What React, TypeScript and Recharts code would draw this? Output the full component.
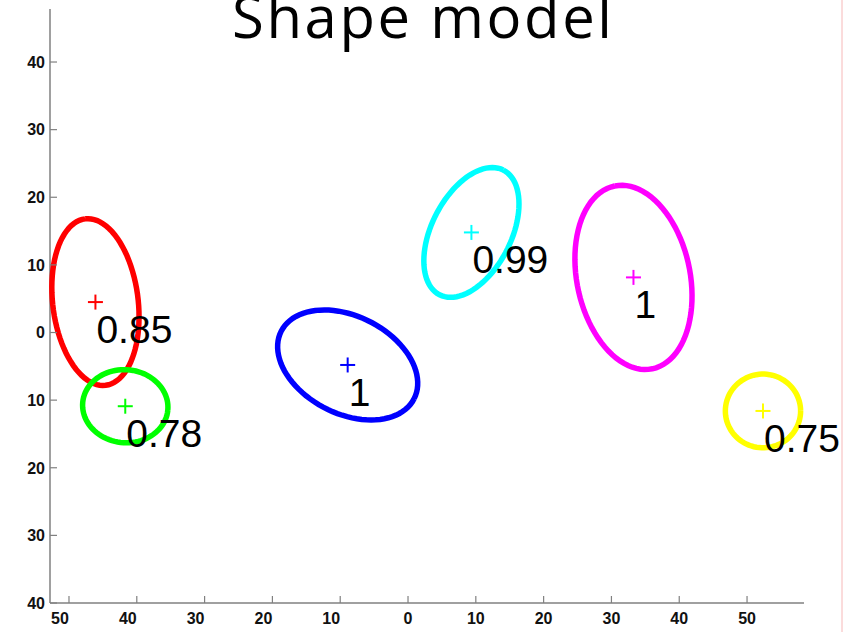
import * as React from "react";
import { ScatterChart, Scatter, XAxis, YAxis } from "recharts";

// component colours, in drawing order
const colors = ["#ff0000", "#00ff00", "#0000ff", "#00ffff", "#ff00ff", "#ffff00"];
// component means (the + marks)
const centerX = [-46.1, -41.7, -8.9, 9.35, 33.25, 52.35];
const centerY = [4.5, -10.9, -4.8, 14.8, 8.15, -11.6];
// ellipse semi-axes and tilt (degrees from +x)
const semiMajor = [12.4, 6.3, 11.0, 10.35, 13.8, 5.55];
const semiMinor = [6.3, 5.4, 7.2, 5.85, 8.35, 5.45];
const tiltDeg = [97, -5, -27, 63, 101.6, 0];
// weight printed next to each mean
const weights = ["0.85", "0.78", "1", "0.99", "1", "0.75"];

const xTicks = [-50, -40, -30, -20, -10, 0, 10, 20, 30, 40, 50];
const yTicks = [-40, -30, -20, -10, 0, 10, 20, 30, 40];

const AXIS = "#808080";

function outline(i: number) {
  const pts: { x: number; y: number }[] = [];
  const th = (tiltDeg[i] * Math.PI) / 180;
  for (let k = 0; k <= 90; k++) {
    const t = (k / 90) * 2 * Math.PI;
    const u = semiMajor[i] * Math.cos(t);
    const v = semiMinor[i] * Math.sin(t);
    pts.push({
      x: centerX[i] + u * Math.cos(th) - v * Math.sin(th),
      y: centerY[i] + u * Math.sin(th) + v * Math.cos(th),
    });
  }
  return pts;
}

const XTick = (props: any) => {
  const { x, y, payload } = props;
  const v = payload.value as number;
  return (
    <g>
      <line x1={x} x2={x} y1={y} y2={y - 7} stroke={AXIS} strokeWidth={1.2} />
      <text
        x={x + (v < 0 ? -9 : 0)}
        y={y + 21}
        textAnchor="middle"
        fontFamily="Liberation Sans, Arial, sans-serif"
        fontWeight="bold"
        fontSize={16}
        fill="#111"
      >
        {Math.abs(v)}
      </text>
    </g>
  );
};

const YTick = (props: any) => {
  const { x, y, payload } = props;
  const v = payload.value as number;
  return (
    <g>
      <line x1={x} x2={x + 7} y1={y} y2={y} stroke={AXIS} strokeWidth={1.2} />
      <text
        x={x - 5}
        y={y}
        dy="0.36em"
        textAnchor="end"
        fontFamily="Liberation Sans, Arial, sans-serif"
        fontWeight="bold"
        fontSize={16}
        fill="#111"
      >
        {Math.abs(v)}
      </text>
    </g>
  );
};

const CenterMark = (props: any) => {
  const { cx, cy, color, label } = props;
  return (
    <g>
      <line x1={cx - 7.5} x2={cx + 7.5} y1={cy} y2={cy} stroke={color} strokeWidth={2} />
      <line x1={cx} x2={cx} y1={cy - 7.5} y2={cy + 7.5} stroke={color} strokeWidth={2} />
      <text
        x={cx + 1}
        y={cy + 41}
        fontFamily="Liberation Sans, Arial, sans-serif"
        fontSize={39}
        fill="#000"
      >
        {label}
      </text>
    </g>
  );
};

export default function App() {
  return (
    <div
      style={{
        position: "absolute",
        left: 0,
        top: 0,
        width: 861,
        height: 632,
        background: "#fff",
        overflow: "hidden",
      }}
    >
      <ScatterChart
        width={861}
        height={632}
        margin={{ top: 9, right: 57, bottom: 0, left: 0 }}
      >
        <XAxis
          type="number"
          dataKey="x"
          domain={[-52.8, 58.4]}
          ticks={xTicks}
          interval={0}
          height={29}
          tickSize={0}
          tickMargin={0}
          tickLine={false}
          axisLine={{ stroke: AXIS, strokeWidth: 1.5 }}
          tick={<XTick />}
        />
        <YAxis
          type="number"
          dataKey="y"
          domain={[-40, 47.84]}
          ticks={yTicks}
          interval={0}
          width={50}
          tickSize={0}
          tickMargin={0}
          tickLine={false}
          axisLine={{ stroke: AXIS, strokeWidth: 1.5 }}
          tick={<YTick />}
        />
        {colors.map((c, i) => (
          <Scatter
            key={"e" + i}
            data={outline(i)}
            line={{ stroke: c, strokeWidth: 5.5 }}
            lineType="joint"
            shape={() => <g />}
            isAnimationActive={false}
          />
        ))}
        {colors.map((c, i) => (
          <Scatter
            key={"c" + i}
            data={[{ x: centerX[i], y: centerY[i] }]}
            shape={(p: any) => <CenterMark {...p} color={c} label={weights[i]} />}
            isAnimationActive={false}
          />
        ))}
      </ScatterChart>
      <svg
        width={861}
        height={632}
        style={{ position: "absolute", left: 0, top: 0, pointerEvents: "none" }}
      >
        <text
          x={422}
          y={38}
          textAnchor="middle"
          fontFamily="Open Sans, Noto Sans, sans-serif"
          fontWeight={500}
          fontSize={58}
          textLength={380}
          lengthAdjust="spacing"
          fill="#000"
        >
          Shape model
        </text>
        <line x1={842} x2={842} y1={0} y2={632} stroke="#f7b8b8" strokeWidth={1} />
      </svg>
    </div>
  );
}
